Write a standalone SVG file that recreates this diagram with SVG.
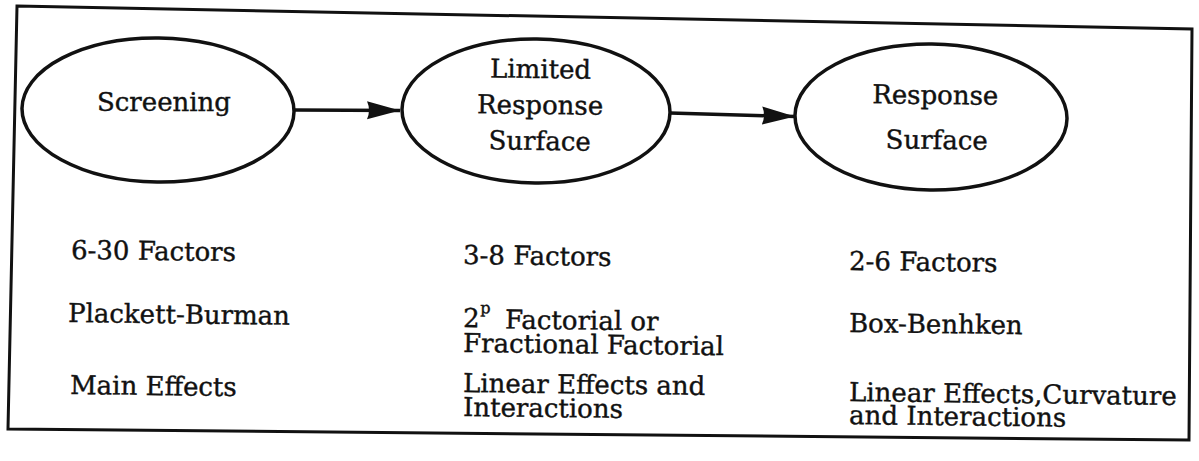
<svg xmlns="http://www.w3.org/2000/svg" width="1199" height="461" viewBox="0 0 1199 461">
<style>
.t{font-family:"DejaVu Serif","Liberation Serif",serif;font-size:26px;fill:#111;stroke:#111;stroke-width:0.4}
.n{fill:none;stroke:#111;stroke-width:3.5}
.c{stroke:#111;stroke-width:3.5;fill:none}
</style>
<defs>
<marker id="ah" markerUnits="userSpaceOnUse" markerWidth="36" markerHeight="22" refX="33" refY="10" orient="auto">
<path d="M0,1 L33,10 L0,19 Q4,10 0,1 Z" fill="#111"/>
</marker>
</defs>
<rect width="1199" height="461" fill="#fff"/>
<polygon id="frame" points="17,6 1192,29 1189,440 8,429" fill="none" stroke="#111" stroke-width="3"/>
<g id="connectors">
<line class="c" x1="295" y1="110" x2="400" y2="110.5" marker-end="url(#ah)"/>
<line class="c" x1="670" y1="113" x2="795" y2="116.5" marker-end="url(#ah)"/>
</g>
<g id="screening">
<ellipse class="n" cx="158" cy="110" rx="136" ry="72" transform="rotate(0.7 158 110)"/>
<text class="t" x="164" y="111" text-anchor="middle">Screening</text>
</g>
<g id="limited">
<ellipse class="n" cx="536" cy="111" rx="134" ry="72" transform="rotate(0.7 536 111)"/>
<text class="t" text-anchor="middle" transform="rotate(0.7 540 114)"><tspan x="540" y="78">Limited</tspan><tspan x="540" y="114">Response</tspan><tspan x="540" y="150">Surface</tspan></text>
</g>
<g id="response">
<ellipse class="n" cx="931" cy="117" rx="136" ry="73" transform="rotate(0.7 931 117)"/>
<text class="t" text-anchor="middle" transform="rotate(0.7 935 120)"><tspan x="935" y="104">Response</tspan><tspan x="937" y="149">Surface</tspan></text>
</g>
<g id="col1">
<text class="t" x="71" y="259" transform="rotate(0.7 71 259)">6-30 Factors</text>
<text class="t" x="68" y="322" transform="rotate(0.7 68 322)">Plackett-Burman</text>
<text class="t" x="70" y="394" transform="rotate(0.7 70 394)">Main Effects</text>
</g>
<g id="col2">
<text class="t" x="463" y="264" transform="rotate(0.7 463 264)">3-8 Factors</text>
<text class="t" transform="rotate(0.7 463 327)"><tspan x="463" y="327">2</tspan><tspan x="480" y="313" font-size="16">p</tspan><tspan x="505" y="328">Factorial or</tspan></text>
<text class="t" x="463" y="352" transform="rotate(0.7 463 352)">Fractional Factorial</text>
<text class="t" x="463" y="392" transform="rotate(0.7 463 392)">Linear Effects and</text>
<text class="t" x="463" y="416" transform="rotate(0.7 463 416)">Interactions</text>
</g>
<g id="col3">
<text class="t" x="849" y="270" transform="rotate(0.7 849 270)">2-6 Factors</text>
<text class="t" x="849" y="332" transform="rotate(0.7 849 332)">Box-Benhken</text>
<text class="t" x="849" y="401" transform="rotate(0.7 849 401)">Linear Effects,Curvature</text>
<text class="t" x="849" y="424" transform="rotate(0.7 849 424)">and Interactions</text>
</g>
</svg>
